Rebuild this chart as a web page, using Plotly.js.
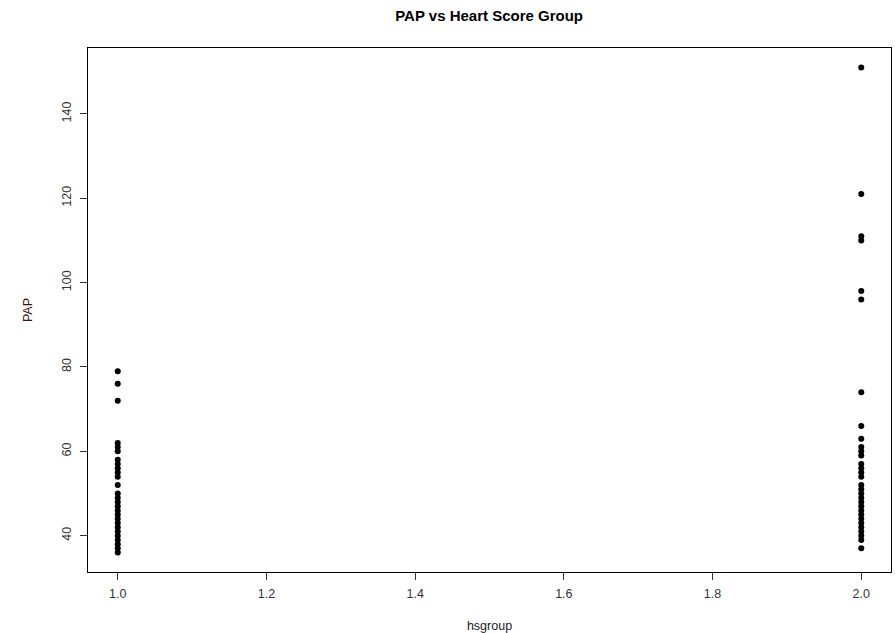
<!DOCTYPE html>
<html>
<head>
<meta charset="utf-8">
<script src="https://cdn.plot.ly/plotly-3.0.1.min.js"></script>
<style>html,body{margin:0;padding:0;background:#fff;}#chart{width:895px;height:633px;}</style>
</head>
<body>
<div id="chart"></div>
<script>
var groups = [1, 2];
var papGroup1 = [79,76,72,62,61,60,58,57,56,55,54,52,50,49,48,47,46,45,44,43,42,41,40,39,38,37,36];
var papGroup2 = [151,121,111,110,98,96,74,66,63,61,60,59,57,56,55,54,52,51,50,49,48,47,46,45,44,43,42,41,40,39,37];
var xTicks = [1.0, 1.2, 1.4, 1.6, 1.8, 2.0];
var xTickLabels = ["1.0", "1.2", "1.4", "1.6", "1.8", "2.0"];
var yTicks = [40, 60, 80, 100, 120, 140];

var xs = [], ys = [];
[papGroup1, papGroup2].forEach(function (arr, i) {
  arr.forEach(function (v) { xs.push(groups[i]); ys.push(v); });
});

var yMin = Math.min.apply(null, ys), yMax = Math.max.apply(null, ys);
var yPad = (yMax - yMin) * 0.04;
var xPad = (groups[1] - groups[0]) * 0.04;

var trace = {
  x: xs, y: ys, type: 'scatter', mode: 'markers',
  marker: {color: '#000', size: 6, symbol: 'circle'},
  hoverinfo: 'x+y'
};

var fontFam = '"Liberation Sans", Arial, sans-serif';
var layout = {
  width: 895, height: 633,
  margin: {l: 88, r: 4, t: 48, b: 61, pad: 0},
  paper_bgcolor: '#fff', plot_bgcolor: '#fff',
  showlegend: false,
  title: {text: '<b>PAP vs Heart Score Group</b>', x: 0.5465, xanchor: 'center', y: 0.975, yanchor: 'middle',
          font: {family: fontFam, size: 15, color: '#000'}},
  xaxis: {
    range: [groups[0] - xPad, groups[1] + xPad],
    tickvals: xTicks, ticktext: xTickLabels,
    ticks: 'outside', ticklen: 7, tickwidth: 1, tickcolor: '#333',
    ticklabelstandoff: 3,
    showgrid: false, zeroline: false,
    showline: true, linecolor: '#000', linewidth: 1, mirror: true,
    tickfont: {family: fontFam, size: 12.5, color: '#333'},
    title: {text: 'hsgroup', font: {family: fontFam, size: 12.5, color: '#222'}, standoff: 24}
  },
  yaxis: {
    range: [yMin - yPad, yMax + yPad],
    tickvals: yTicks,
    ticks: 'outside', ticklen: 7, tickwidth: 1, tickcolor: '#333',
    ticklabelstandoff: 4,
    tickangle: -90,
    showgrid: false, zeroline: false,
    showline: true, linecolor: '#000', linewidth: 1, mirror: true,
    tickfont: {family: fontFam, size: 12.5, color: '#333'},
    title: {text: 'PAP', font: {family: fontFam, size: 12.5, color: '#3a1010'}, standoff: 24}
  }
};

Plotly.newPlot('chart', [trace], layout, {displayModeBar: false, staticPlot: true});
</script>
</body>
</html>
